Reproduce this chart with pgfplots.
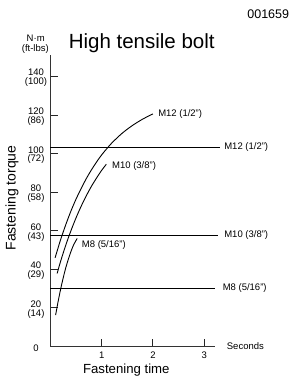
\documentclass[border=0pt]{standalone}
\usepackage{pgfplots}
\pgfplotsset{compat=1.18}
\usepackage{fontspec}
\setmainfont{Liberation Sans}
\setsansfont{Liberation Sans}
\begin{document}
\begin{tikzpicture}
\useasboundingbox (-50.5bp,-31.5bp) rectangle (240.5bp,346.5bp);
\def\sm{\fontsize{9.5bp}{8.8bp}\selectfont}
\begin{axis}[
  at={(0,0)}, anchor=south west,
  scale only axis, width=164.4bp, height=291.6bp,
  xmin=0, xmax=3.21, ymin=0, ymax=151.2,
  axis x line=bottom, axis y line=left,
  axis line style={-, line width=1.4bp, black!80},
  clip=false,
  xtick={1,2,3}, xticklabels={1,2,3},
  ytick={0,20,40,60,80,100,120,140},
  yticklabels={0,{20\\(14)},{40\\(29)},{60\\(43)},{80\\(58)},{100\\(72)},{120\\(86)},{140\\(100)}},
  tick align=inside, major tick length=8bp,
  tick style={line width=1.1bp, black!85},
  yticklabel style={font=\sm, align=center, anchor=center, xshift=-14.5bp, yshift=-1.5bp},
  xticklabel style={font=\sm, yshift=-1.5bp},
]
% high tensile curves
\addplot[smooth, line width=0.9bp, black] coordinates {(0.09,46.0) (0.15,51.3) (0.2,55.6) (0.3,63.3) (0.4,70.3) (0.5,76.5) (0.6,82.0) (0.7,87.1) (0.8,91.6) (0.9,95.7) (1.0,99.4) (1.1,102.6) (1.2,105.6) (1.4,110.6) (1.6,114.6) (1.8,117.9) (2.0,120.6)};
\addplot[smooth, line width=0.9bp, black] coordinates {(0.13,37.9) (0.2,44.4) (0.3,52.7) (0.4,60.1) (0.5,66.8) (0.6,72.8) (0.7,78.2) (0.8,83.1) (0.9,87.4) (1.0,91.4) (1.09,94.5)};
\addplot[smooth, line width=0.9bp, black] coordinates {(0.10,16.3) (0.15,23.5) (0.20,30.0) (0.25,35.8) (0.30,41.0) (0.35,45.4) (0.40,49.3) (0.45,52.6) (0.52,56.0)};
% recommended torque levels
\addplot[line width=0.9bp, black] coordinates {(0,103.3) (3.3,103.3)};
\addplot[line width=0.9bp, black] coordinates {(0,57.8) (3.28,57.8)};
\addplot[line width=0.9bp, black] coordinates {(0,30.2) (3.21,30.2)};
\node[font=\sm, anchor=west, inner sep=0] at (axis cs:2.10,120.6) {M12 (1/2'')};
\node[font=\sm, anchor=west, inner sep=0] at (axis cs:1.20,93.8) {M10 (3/8'')};
\node[font=\sm, anchor=west, inner sep=0] at (axis cs:0.61,52.6) {M8 (5/16'')};
\node[font=\sm, anchor=west, inner sep=0] at (axis cs:3.39,103.3) {M12 (1/2'')};
\node[font=\sm, anchor=west, inner sep=0] at (axis cs:3.39,57.8) {M10 (3/8'')};
\node[font=\sm, anchor=west, inner sep=0] at (axis cs:3.36,30.2) {M8 (5/16'')};
\end{axis}
\node[font=\fontsize{12.5bp}{14bp}\selectfont, anchor=east, inner sep=0] at (238.8bp,332.7bp) {001659};
\node[font=\fontsize{20.5bp}{23bp}\selectfont, inner sep=0] at (91.2bp,303.5bp) {High tensile bolt};
\node[font=\sm, inner sep=0] at (-14.8bp,308bp) {N·m};
\node[font=\sm, inner sep=0] at (-15.2bp,297.2bp) {(ft-lbs)};
\node[font=\fontsize{14bp}{16bp}\selectfont, rotate=90, inner sep=0] at (-38.5bp,148.5bp) {Fastening torque};
\node[font=\fontsize{13.2bp}{15bp}\selectfont, inner sep=0] at (75.8bp,-23.5bp) {Fastening time};
\node[font=\sm, anchor=west, inner sep=0] at (176.2bp,0.5bp) {Seconds};
\end{tikzpicture}
\end{document}
